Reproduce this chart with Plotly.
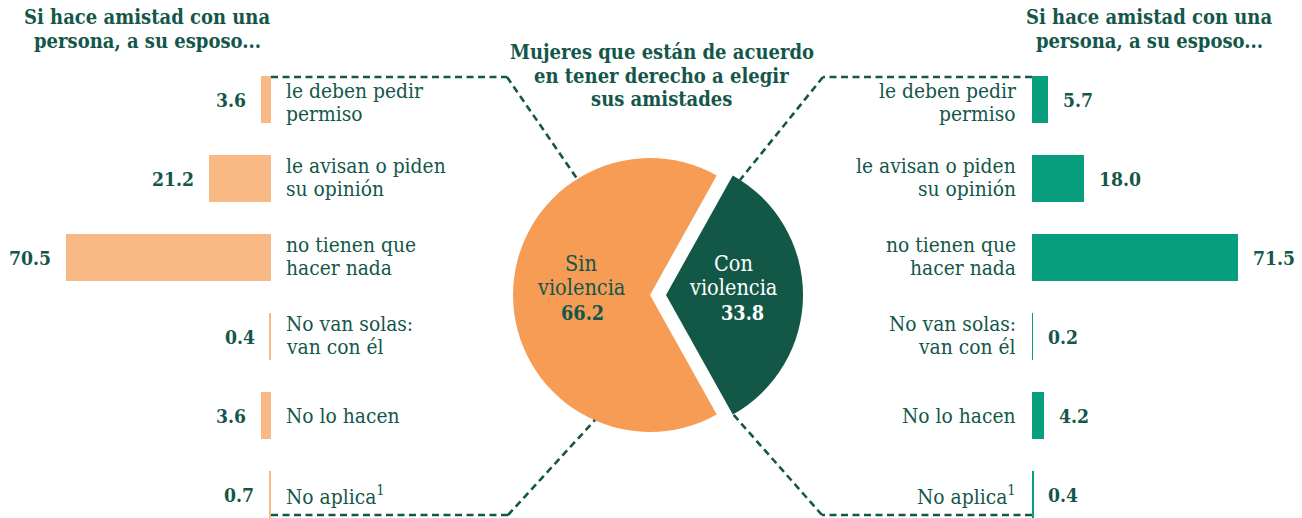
import plotly.graph_objects as go

# ---------------- data ----------------
categories = [
    "le deben pedir<br>permiso",
    "le avisan o piden<br>su opinión",
    "no tienen que<br>hacer nada",
    "No van solas:<br>van con él",
    "No lo hacen",
    "No aplica<sup>1</sup>",
]
values_sin = [3.6, 21.2, 70.5, 0.4, 3.6, 0.7]   # left (sin violencia)
values_con = [5.7, 18.0, 71.5, 0.2, 4.2, 0.4]   # right (con violencia)

pie_labels = ["Con<br>violencia", "Sin<br>violencia"]
pie_values = [33.8, 66.2]

side_title = ["Si hace amistad con una", "persona, a su esposo..."]
center_title = ["Mujeres que están de acuerdo", "en tener derecho a elegir", "sus amistades"]

# ---------------- styles ----------------
W, H = 1302, 518
FONT = "DejaVu Serif Condensed, DejaVu Serif"
TXT = "#14574a"
C_LEFT_BAR = "#f9b985"
C_RIGHT_BAR = "#069e7c"
C_PIE_SIN = "#f69c55"
C_PIE_CON = "#135746"
FS_CAT = 20.8
FS_VAL = 19.2
FS_TTL = 20
FS_PIE = 21.5
row_text_adjust = [4, 0, 0, 0, 0, 0]   # pixel nudge (down) of label lines per row

rows = list(range(len(categories)))

def px(x):
    return x / W

def py(y):
    return 1 - y / H

fig = go.Figure()

fig.add_trace(go.Bar(
    x=values_sin, y=rows, orientation="h", xaxis="x", yaxis="y",
    width=0.595, marker=dict(color=C_LEFT_BAR, line=dict(width=0)),
    hoverinfo="skip", showlegend=False,
))
fig.add_trace(go.Bar(
    x=values_con, y=rows, orientation="h", xaxis="x2", yaxis="y",
    width=0.595, marker=dict(color=C_RIGHT_BAR, line=dict(width=0)),
    hoverinfo="skip", showlegend=False,
))

pull = 0.117
fig.add_trace(go.Pie(
    values=pie_values, labels=pie_labels, sort=False, direction="clockwise",
    rotation=90 - pie_values[0] * 3.6 / 2,
    pull=[pull, 0], textinfo="none", hoverinfo="skip", showlegend=False,
    marker=dict(colors=[C_PIE_CON, C_PIE_SIN], line=dict(width=0)),
    domain=dict(x=[px(650 - 153), px(650 + 153)], y=[py(295 + 153), py(295 - 153)]),
))

ann = []

def line_offsets(n):
    if n == 1:
        return [0]
    return [-12.5, 10.5]

for i, cat in enumerate(categories):
    lines = cat.split("<br>")
    offs = line_offsets(len(lines))
    for ln, off in zip(lines, offs):
        off = off + row_text_adjust[i]
        ann.append(dict(x=0, xref="x", y=i, yref="y", text=ln, showarrow=False,
                        xanchor="left", yanchor="middle", xshift=13, yshift=-off,
                        font=dict(family=FONT, size=FS_CAT, color=TXT)))
        ann.append(dict(x=0, xref="x2", y=i, yref="y", text=ln, showarrow=False,
                        xanchor="right", yanchor="middle", xshift=-14, yshift=-off,
                        font=dict(family=FONT, size=FS_CAT, color=TXT)))
    ann.append(dict(x=values_sin[i], xref="x", y=i, yref="y",
                    text=f"<b>{values_sin[i]:.1f}</b>", showarrow=False,
                    xanchor="right", yanchor="middle", xshift=-13, yshift=-1,
                    font=dict(family=FONT, size=FS_VAL, color=TXT)))
    ann.append(dict(x=values_con[i], xref="x2", y=i, yref="y",
                    text=f"<b>{values_con[i]:.1f}</b>", showarrow=False,
                    xanchor="left", yanchor="middle", xshift=13, yshift=-1,
                    font=dict(family=FONT, size=FS_VAL, color=TXT)))

# side titles
for cx in (147, 1149):
    for ln, yy in zip(side_title, (17, 41)):
        ann.append(dict(x=px(cx), y=py(yy), xref="paper", yref="paper", text=f"<b>{ln}</b>",
                        showarrow=False, xanchor="center", yanchor="middle",
                        font=dict(family=FONT, size=FS_TTL, color=TXT)))
# center title
for ln, yy in zip(center_title, (52, 75.5, 99)):
    ann.append(dict(x=px(662), y=py(yy), xref="paper", yref="paper", text=f"<b>{ln}</b>",
                    showarrow=False, xanchor="center", yanchor="middle",
                    font=dict(family=FONT, size=FS_TTL, color=TXT)))

# pie labels
pie_text_pos = {0: (733, 742, "white"), 1: (581, 582, TXT)}
for k, (lab, val) in enumerate(zip(pie_labels, pie_values)):
    xl, xv, col = pie_text_pos[k]
    l1, l2 = lab.split("<br>")
    for txt, xx, yy, fs in ((l1, xl, 263, FS_PIE), (l2, xl, 287, FS_PIE),
                            (f"<b>{val:.1f}</b>", xv, 313.5, FS_VAL + 0.5)):
        ann.append(dict(x=px(xx), y=py(yy), xref="paper", yref="paper", text=txt,
                        showarrow=False, xanchor="center", yanchor="middle",
                        font=dict(family=FONT, size=fs, color=col)))

# dashed connector lines (decoration)
dash_paths = [
    [(271, 77), (507, 77), (578, 180)],
    [(1032, 77), (823, 77), (740, 180)],
    [(271, 515), (508, 515), (595, 420)],
    [(1032, 515), (822, 515), (732, 413)],
]
shapes = []
for pts in dash_paths:
    for (x0, y0), (x1, y1) in zip(pts[:-1], pts[1:]):
        shapes.append(dict(type="line", xref="paper", yref="paper",
                           x0=px(x0), y0=py(y0), x1=px(x1), y1=py(y1),
                           line=dict(color=TXT, width=2.6, dash="7px,4.5px")))

fig.update_layout(
    width=W, height=H, margin=dict(l=0, r=0, t=0, b=0),
    paper_bgcolor="white", plot_bgcolor="white",
    showlegend=False, bargap=0,
    xaxis=dict(domain=[0, px(271)], range=[271 / 2.91, 0], visible=False, fixedrange=True),
    xaxis2=dict(domain=[px(1032), 1], range=[0, 270 / 2.881], visible=False, anchor="y", fixedrange=True),
    yaxis=dict(domain=[0, 1], range=[(518 - 99.5) / 79, -99.5 / 79], visible=False, fixedrange=True),
    annotations=ann, shapes=shapes,
)

fig.write_html("out.html", config={"displayModeBar": False},
               post_script="document.body.style.margin='0';document.body.style.overflow='hidden';")
